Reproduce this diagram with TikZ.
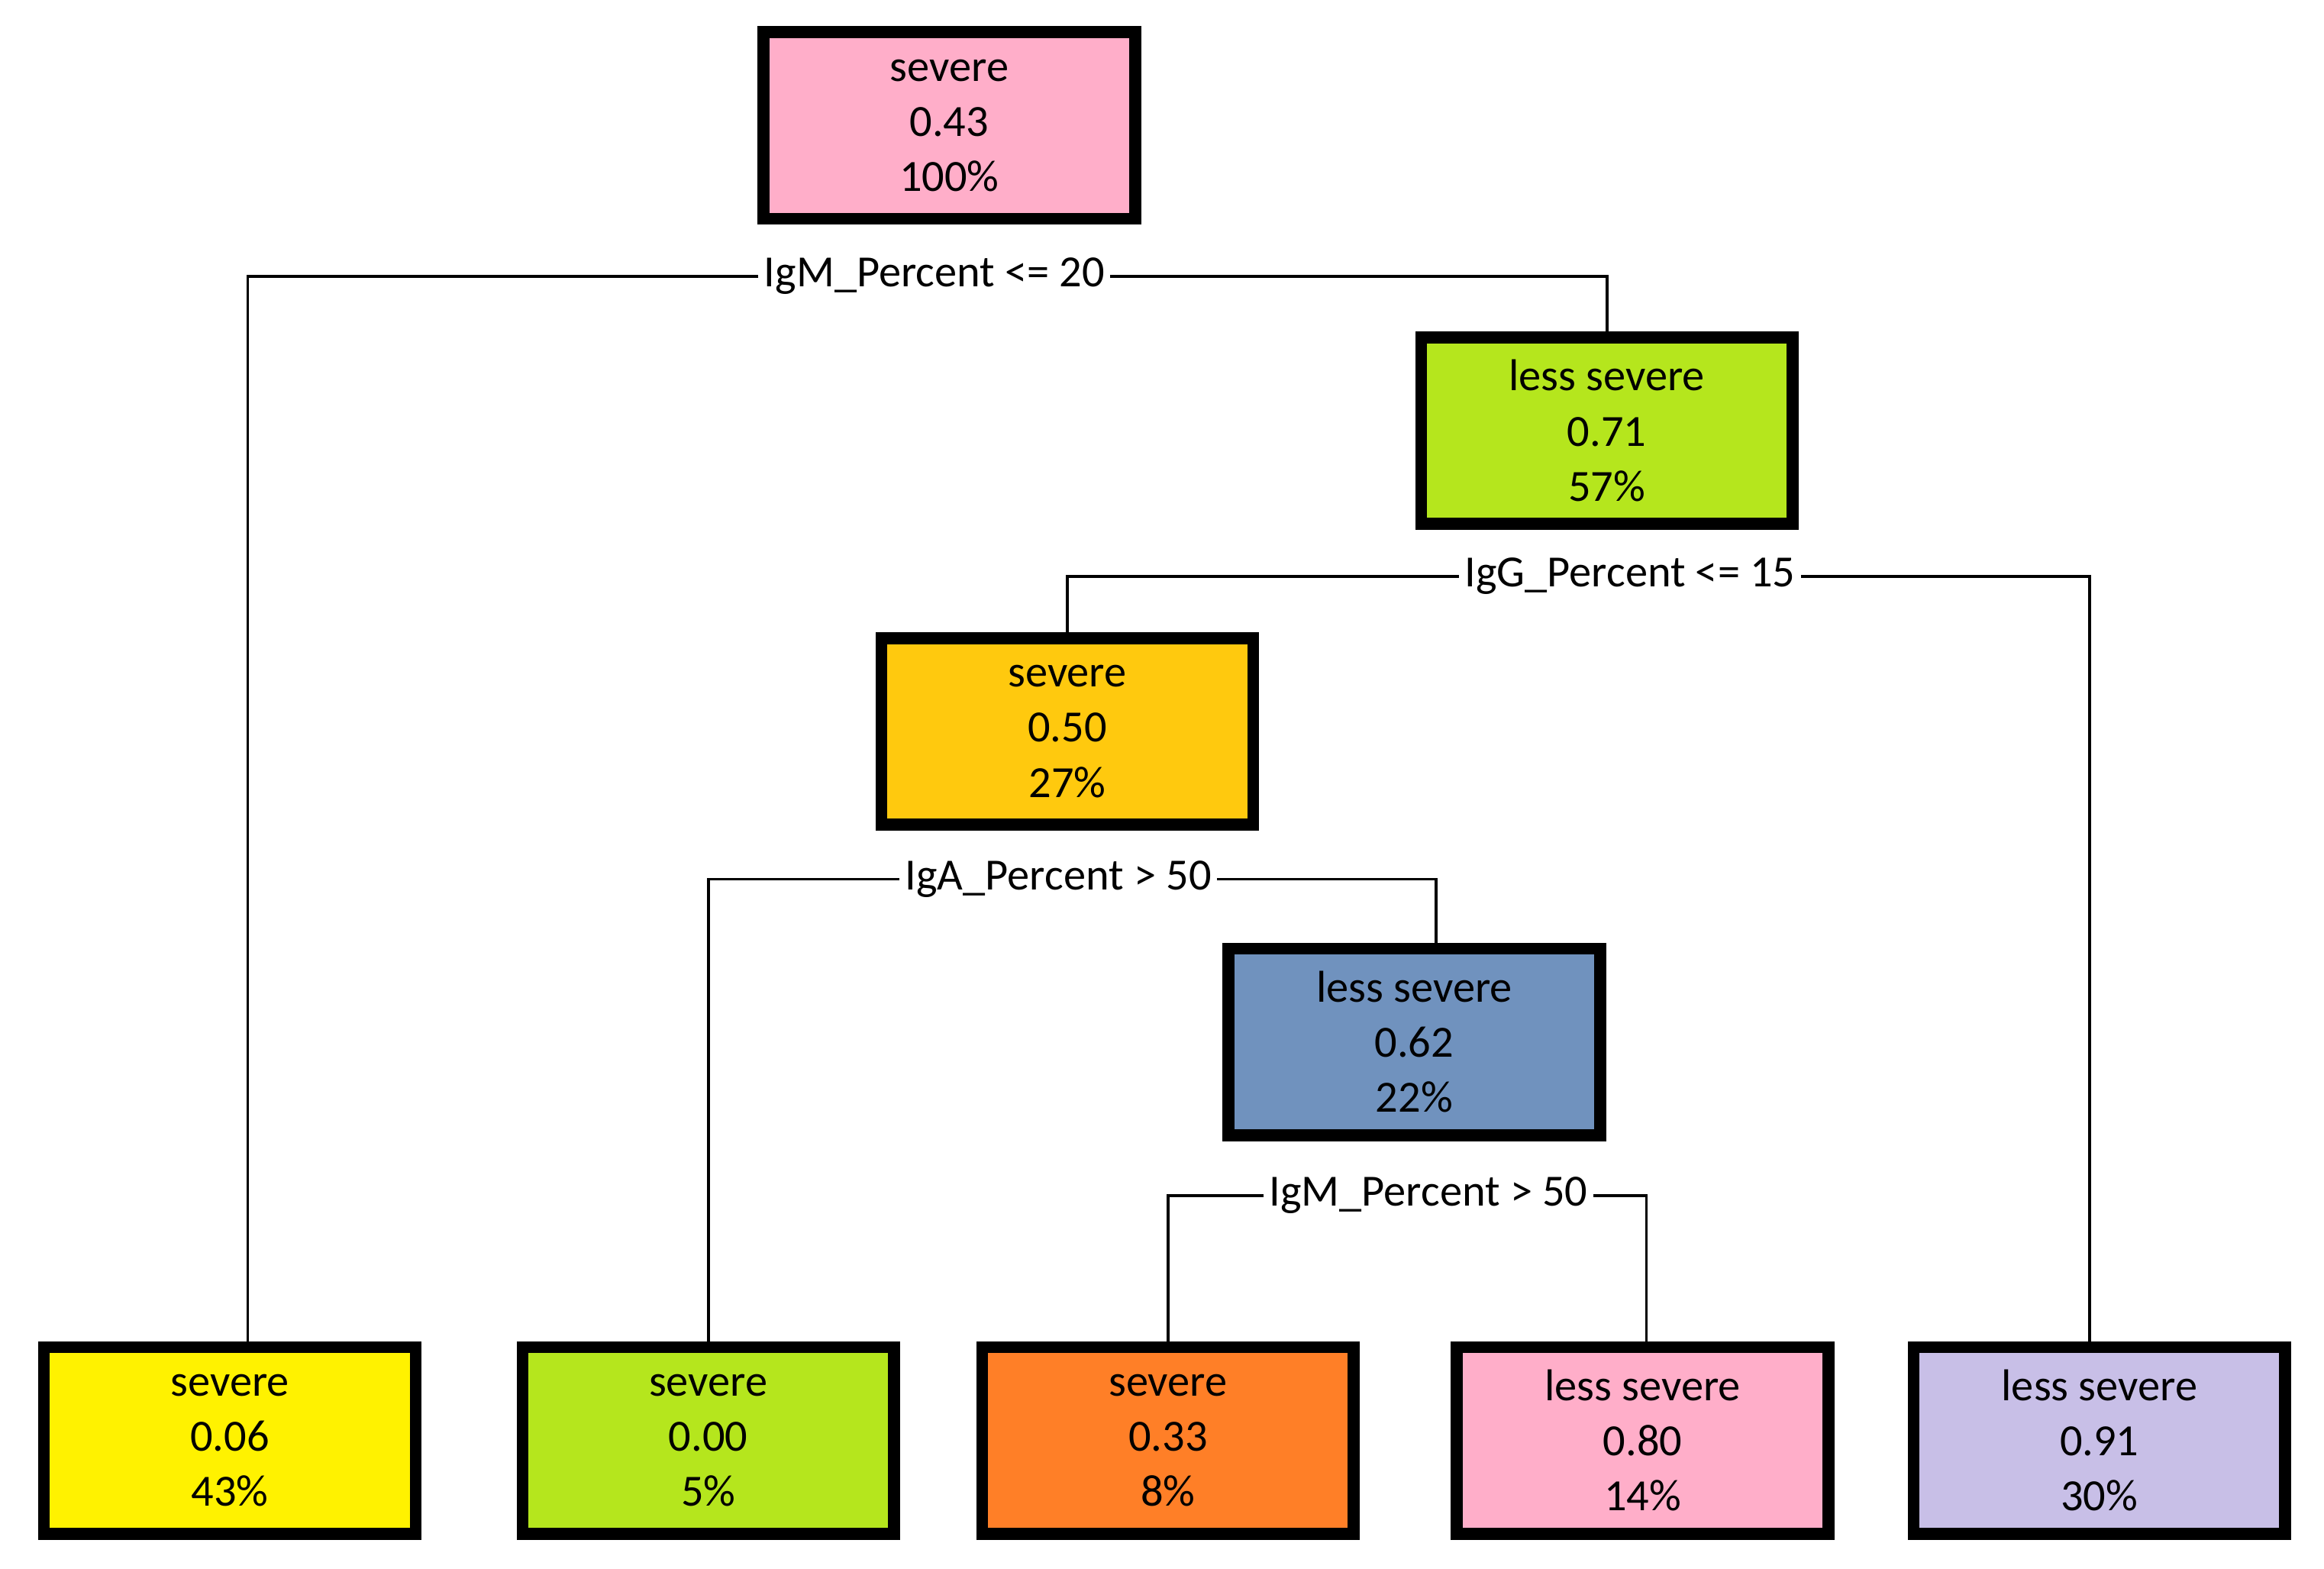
\documentclass[tikz,border=0pt]{standalone}
\usepackage{fontspec}
\setmainfont{Carlito}
\definecolor{cpink}{HTML}{FFAEC9}
\definecolor{cgreen}{HTML}{B5E61D}
\definecolor{cgold}{HTML}{FFC90E}
\definecolor{cblue}{HTML}{7092BE}
\definecolor{cyellow}{HTML}{FFF200}
\definecolor{corange}{HTML}{FF7F27}
\definecolor{clav}{HTML}{C8BFE7}
\begin{document}
\begin{tikzpicture}[x=0.02cm,y=-0.02cm,
 box/.style={draw=black,line width=4.5pt,minimum width=4.98cm,minimum height=2.5cm,align=center,font=\fontsize{17}{21}\selectfont,fill=#1},
 lab/.style={fill=white,inner sep=2pt,font=\fontsize{17}{20}\selectfont},
 con/.style={line width=1.1pt}]
\useasboundingbox (0,0) rectangle (1557,1051);
\node[box=cpink] (root) at (636,84) {severe\\0.43\\100\%};
\node[box=cgreen] (n1) at (1076.5,288.5) {less severe\\0.71\\57\%};
\node[box=cgold] (n2) at (715,490) {severe\\0.50\\27\%};
\node[box=cblue] (n3) at (947.5,698) {less severe\\0.62\\22\%};
\node[box=cyellow] (l1) at (154,965) {severe\\0.06\\43\%};
\node[box=cgreen] (l2) at (474.5,965) {severe\\0.00\\5\%};
\node[box=corange] (l3) at (782.5,965) {severe\\0.33\\8\%};
\node[box=cpink] (l4) at (1100.5,965) {less severe\\0.80\\14\%};
\node[box=clav] (l5) at (1406.5,965) {less severe\\0.91\\30\%};
\node[lab] (s1) at (626,185) {IgM\_Percent <= 20};
\node[lab] (s2) at (1092,386) {IgG\_Percent <= 15};
\node[lab] (s3) at (709,589) {IgA\_Percent > 50};
\node[lab] (s4) at (957,801) {IgM\_Percent > 50};
\draw[con] (s1.west) -| (l1.north -| 166,0);
\draw[con] (s1.east) -| (n1.north);
\draw[con] (s2.west) -| (n2.north);
\draw[con] (s2.east) -| (l5.north -| 1400,0);
\draw[con] (s3.west) -| (l2.north);
\draw[con] (s3.east) -| (n3.north -| 962,0);
\draw[con] (s4.west) -| (l3.north);
\draw[con] (s4.east) -| (l4.north -| 1103,0);
\end{tikzpicture}
\end{document}
